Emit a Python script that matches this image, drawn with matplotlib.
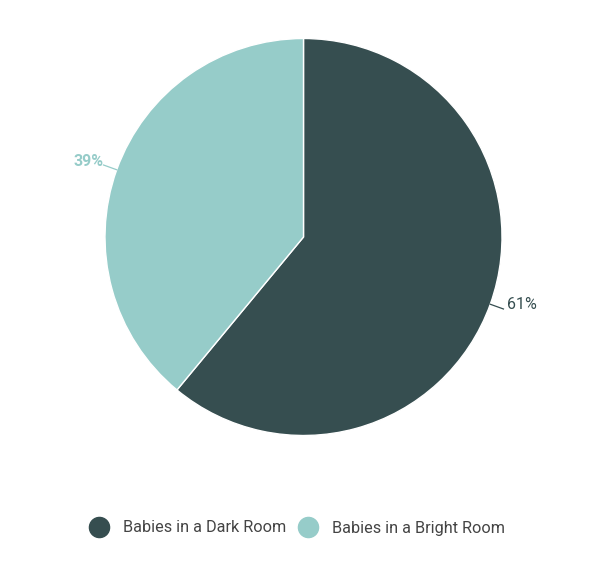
import matplotlib.pyplot as plt
from matplotlib.lines import Line2D
import numpy as np

# data
labels = ['Babies in a Dark Room', 'Babies in a Bright Room']
values = [61, 39]
colors = ['#364e50', '#96ccc9']
label_colors = ['#364e50', '#96ccc9']
label_weights = ['normal', 'bold']

plt.rcParams['font.family'] = ['Roboto', 'DejaVu Sans']

W, H = 599, 565
fig = plt.figure(figsize=(W / 100, H / 100), dpi=100)
ax = fig.add_axes([0, 0, 1, 1])

cx, cy, r = 303.5, H - 237, 198.5
wedges, _ = ax.pie(values, colors=colors, startangle=90, counterclock=False,
                   center=(cx, cy), radius=r, frame=True,
                   wedgeprops=dict(edgecolor='white', linewidth=1))
ax.set_xlim(0, W)
ax.set_ylim(0, H)
ax.set_aspect('equal')
ax.axis('off')

# percentage labels with short leader lines
for w, v, c, fw in zip(wedges, values, label_colors, label_weights):
    ang = np.deg2rad((w.theta1 + w.theta2) / 2)
    x0, y0 = cx + r * np.cos(ang), cy + r * np.sin(ang)
    x1, y1 = cx + (r + 14) * np.cos(ang), cy + (r + 14) * np.sin(ang)
    side = 1 if np.cos(ang) > 0 else -1
    ax.plot([x0, x1], [y0, y1], color=c, lw=0.9)
    gap = 4 if side > 0 else 0
    ax.text(x1 + side * gap, y1 + 4, f'{v}%', color=c, fontsize=11.5, fontweight=fw,
            ha='left' if side > 0 else 'right', va='center')

# legend
handles = [Line2D([], [], marker='o', ls='', markersize=14.5, color=c) for c in colors]
ax.legend(handles, labels, loc='center', bbox_to_anchor=(297 / W, 1 - 528 / H),
          ncol=2, frameon=False, fontsize=11.7, labelcolor='#444444',
          handletextpad=0.88, columnspacing=0.75, handlelength=1.2)

fig.savefig('out.png', dpi=100, facecolor='white')
